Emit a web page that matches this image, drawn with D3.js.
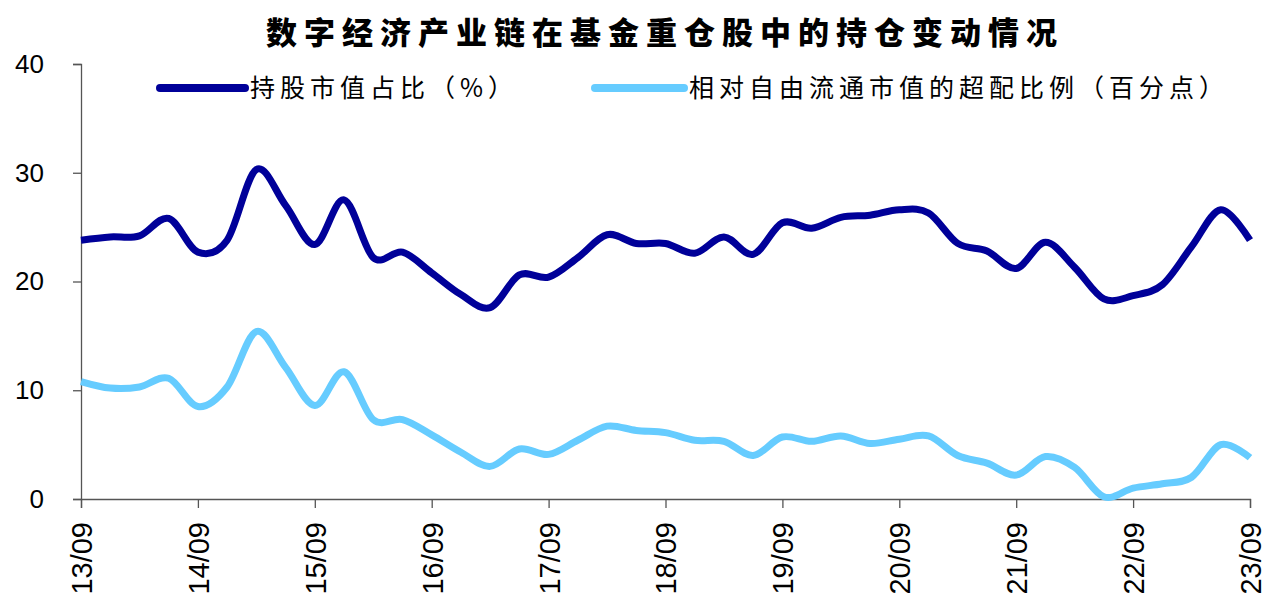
<!DOCTYPE html>
<html>
<head>
<meta charset="utf-8">
<script src="https://cdn.jsdelivr.net/npm/d3@7"></script>
<style>
  body { margin: 0; background: #fff; }
  svg { display: block; }
</style>
</head>
<body>
<svg id="chart"></svg>
<script>
// data, quarterly from 13/09 to 23/09
const quarters = [
  "13/09","13/12","14/03","14/06","14/09","14/12","15/03","15/06","15/09","15/12",
  "16/03","16/06","16/09","16/12","17/03","17/06","17/09","17/12","18/03","18/06",
  "18/09","18/12","19/03","19/06","19/09","19/12","20/03","20/06","20/09","20/12",
  "21/03","21/06","21/09","21/12","22/03","22/06","22/09","22/12","23/03","23/06","23/09"
];
const holdingShare = [
  23.8, 24.1, 24.2, 25.8, 22.7, 23.8, 30.3, 27.0, 23.4, 27.5,
  22.2, 22.7, 20.8, 18.8, 17.6, 20.6, 20.4, 22.2, 24.3, 23.5,
  23.5, 22.6, 24.1, 22.5, 25.4, 24.9, 25.9, 26.1, 26.6, 26.3,
  23.5, 22.8, 21.2, 23.6, 21.3, 18.4, 18.7, 19.7, 23.2, 26.6, 23.8
];
const overweight = [
  10.8, 10.2, 10.3, 11.1, 8.5, 10.3, 15.4, 12.1, 8.6, 11.7,
  7.3, 7.3, 5.9, 4.3, 3.0, 4.6, 4.1, 5.4, 6.7, 6.3,
  6.1, 5.4, 5.3, 4.0, 5.7, 5.3, 5.8, 5.1, 5.5, 5.8,
  4.0, 3.3, 2.2, 3.9, 2.9, 0.2, 1.0, 1.4, 2.0, 5.0, 3.8
];
const seriesNames = ["持股市值占比（%）", "相对自由流通市值的超配比例（百分点）"];
const seriesColors = ["#000099", "#66CCFF"];
const yTicks = [0, 10, 20, 30, 40];
const title = "数字经济产业链在基金重仓股中的持仓变动情况";

const width = 1264;
const height = 594;
const margin = {top: 64, right: 14, bottom: 95, left: 81};
const innerW = width - margin.left - margin.right;
const innerH = height - margin.top - margin.bottom;

const svg = d3.select("#chart")
    .attr("width", width)
    .attr("height", height);

const g = svg.append("g")
    .attr("transform", "translate(" + margin.left + "," + margin.top + ")");

const x = d3.scalePoint()
    .domain(quarters)
    .range([0, innerW]);

const y = d3.scaleLinear()
    .domain([0, 40])
    .range([innerH, 0]);

// axes
const yAxis = g.append("g")
    .call(d3.axisLeft(y).tickValues(yTicks).tickSize(8).tickPadding(29));
yAxis.selectAll("text")
    .style("font-family", "Liberation Sans, Arial, sans-serif")
    .style("font-size", "26px")
    .attr("fill", "#000");

const xAxis = g.append("g")
    .attr("transform", "translate(0," + innerH + ")")
    .call(d3.axisBottom(x).tickValues(quarters.filter((d, i) => i % 4 === 0)).tickSize(9));
xAxis.selectAll("text")
    .style("font-family", "Liberation Sans, Arial, sans-serif")
    .style("font-size", "29px")
    .attr("fill", "#000")
    .attr("transform", "rotate(-90)")
    .attr("text-anchor", "end")
    .attr("x", -23)
    .attr("y", 0)
    .attr("dy", "0.36em");

g.selectAll(".domain, .tick line")
    .attr("stroke", "#555")
    .attr("stroke-width", 1.3);

// lines
const line = d3.line()
    .x((d, i) => x(quarters[i]))
    .y(d => y(d))
    .curve(d3.curveCardinal.tension(0));

[holdingShare, overweight].forEach(function(values, k) {
  g.append("path")
      .datum(values)
      .attr("fill", "none")
      .attr("stroke", seriesColors[k])
      .attr("stroke-width", 7)
      .attr("stroke-linejoin", "round")
      .attr("d", line);
});

// title
svg.append("text")
    .attr("x", 665)
    .attr("y", 44)
    .attr("text-anchor", "middle")
    .style("font-family", "Noto Sans CJK SC, sans-serif")
    .style("font-weight", "900")
    .style("font-size", "31px")
    .style("letter-spacing", "7px")
    .text(title);

// legend
const legendItems = [
  {x1: 160, x2: 245, tx: 250},
  {x1: 595, x2: 684, tx: 689}
];
legendItems.forEach(function(p, k) {
  svg.append("line")
      .attr("x1", p.x1).attr("x2", p.x2)
      .attr("y1", 88).attr("y2", 88)
      .attr("stroke", seriesColors[k])
      .attr("stroke-width", 8)
      .attr("stroke-linecap", "round");
  svg.append("text")
      .attr("x", p.tx)
      .attr("y", 97)
      .style("font-family", "Noto Sans CJK SC, sans-serif")
      .style("font-size", "25px")
      .style("letter-spacing", "5px")
      .text(seriesNames[k]);
});
</script>
</body>
</html>
